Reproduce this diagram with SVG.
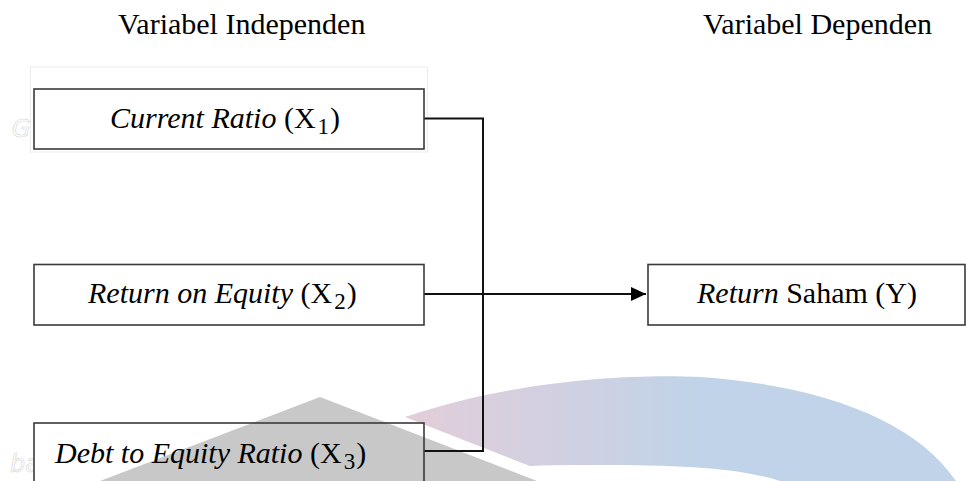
<svg xmlns="http://www.w3.org/2000/svg" width="967" height="481" viewBox="0 0 967 481">
<style>
.t{font-family:"Liberation Serif","Times New Roman",serif;font-size:30px;fill:#000}
.i{font-style:italic}
.sub{font-size:23px}
.box{stroke:#3a3a3a;stroke-width:1.6}
.con{fill:none;stroke:#111;stroke-width:2}
.wm{font-family:"DejaVu Sans",sans-serif;font-style:italic;font-size:24px;fill:none;stroke:#d8d8d8;stroke-width:0.7}
</style>
<defs>
<linearGradient id="arcGrad" x1="405" y1="0" x2="700" y2="0" gradientUnits="userSpaceOnUse">
<stop offset="0" stop-color="#e3cdd9"/>
<stop offset="1" stop-color="#c0d3e8"/>
</linearGradient>
<clipPath id="leftClip"><rect x="0" y="0" width="33" height="481"/></clipPath>
<marker id="arrow" markerWidth="15" markerHeight="14" refX="15" refY="7" orient="auto" markerUnits="userSpaceOnUse">
<path d="M0,0 L15,7 L0,14 Z" fill="#000"/>
</marker>
</defs>
<rect width="967" height="481" fill="#fff"/>
<g id="background">
<path d="M405,417 C520,378 640,374 700,377 C820,385 915,420 956,481 L780,481 C740,468 680,465 600,465 C570,465 545,465 530,466 Z" fill="url(#arcGrad)"/>
<polygon points="320,397 537,481 100,481" fill="#c8c8c8"/>
<rect x="30.5" y="67" width="397" height="85" fill="none" stroke="#ececec" stroke-width="1"/>
<g clip-path="url(#leftClip)">
<text class="wm" x="12" y="137">G</text>
<text class="wm" x="10" y="472">ba</text>
</g>
</g>
<g id="headers">
<text class="t" x="118" y="34">Variabel Independen</text>
<text class="t" x="703" y="34">Variabel Dependen</text>
</g>
<g id="connectors">
<path class="con" d="M424,118.5 H483 V451 H424"/>
<path class="con" d="M424,294 H646" marker-end="url(#arrow)"/>
</g>
<g id="x1">
<rect class="box" x="34" y="89" width="390" height="60" fill="#fff"/>
<text class="t" x="110" y="128"><tspan class="i">Current Ratio</tspan> (X<tspan class="sub" dx="2" dy="6">1</tspan><tspan dx="1" dy="-6">)</tspan></text>
</g>
<g id="x2">
<rect class="box" x="34" y="264.5" width="390" height="60.5" fill="#fff"/>
<text class="t" x="88" y="303"><tspan class="i">Return on Equity</tspan> (X<tspan class="sub" dx="2" dy="6">2</tspan><tspan dx="1" dy="-6">)</tspan></text>
</g>
<g id="x3">
<rect class="box" x="34" y="423" width="390" height="70" fill="none"/>
<text class="t" x="55" y="463"><tspan class="i">Debt to Equity Ratio</tspan> (X<tspan class="sub" dx="2" dy="6">3</tspan><tspan dx="1" dy="-6">)</tspan></text>
</g>
<g id="y">
<rect class="box" x="648" y="264.5" width="317" height="60.5" fill="#fff"/>
<text class="t" x="697" y="303"><tspan class="i">Return</tspan> Saham (Y)</text>
</g>
</svg>
